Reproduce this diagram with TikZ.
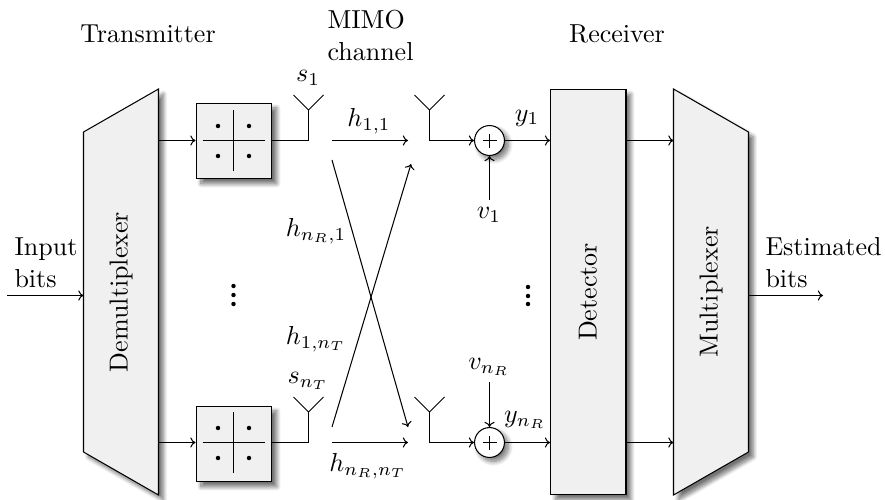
\documentclass[tikz,border=0pt]{standalone}
\usetikzlibrary{shadows.blur,calc,arrows.meta}
\begin{document}
\begin{tikzpicture}[x=0.3846pt,y=-0.3846pt,line width=0.4pt,
  >={Computer Modern Rightarrow[length=2pt,width=3.9pt]},
  shade box/.style={draw,fill=black!6,blur shadow={shadow xshift=1.9pt,shadow yshift=-1.9pt,shadow blur radius=1.5pt,shadow blur steps=10,shadow opacity=55},inner sep=0pt},
  blockbox/.style={shade box,rectangle,minimum width=29pt,minimum height=156pt},
  modbox/.style={shade box,rectangle,minimum width=29.2pt,minimum height=29.2pt},
  addbox/.style={draw,circle,fill=white,blur shadow={shadow xshift=1.5pt,shadow yshift=-1.5pt,shadow blur radius=1.8pt,shadow blur steps=10,shadow opacity=55},minimum size=11.5pt,inner sep=0pt},
  arr/.style={->},
  txt/.style={inner sep=0pt}]
\useasboundingbox (0,0) rectangle (885,500);
% rows
\coordinate (row1) at (0,140.5);
\coordinate (row2) at (0,442.5);
% main blocks
\draw[shade box] (83.5,132) -- (158.5,89) -- (158.5,495) -- (83.5,452) -- cycle;
\node[rotate=90,txt] (demux) at (121,292) {Demultiplexer};
\node[blockbox] (det) at (588.3,292) {};
\node[rotate=90,txt] (dett) at (588,292) {Detector};
\draw[shade box] (673.5,89) -- (748.5,132) -- (748.5,452) -- (673.5,495) -- cycle;
\node[rotate=90,txt] (mux) at (711,292) {Multiplexer};
\node[modbox] (mod1) at (234,141) {};
\node[modbox] (mod2) at (234,444) {};
\coordinate (cen1) at (233.5,140.5);
\coordinate (cen2) at (233.5,442.5);
\foreach \m in {cen1,cen2}{
  \draw ($(\m)+(-31,0)$) -- ($(\m)+(31,0)$);
  \draw ($(\m)+(0,-30.5)$) -- ($(\m)+(0,30)$);
  \foreach \dx in {-15.5,15.5}\foreach \dy in {-14.5,15.5}
    \fill ($(\m)+(\dx,\dy)$) circle (0.85pt);
}
\node[addbox] (add1) at (489.5,140.5) {};
\node[addbox] (add2) at (489.5,442.5) {};
\foreach \a in {add1,add2}{
  \draw ($(\a.center)+(-7,0)$) -- ($(\a.center)+(7,0)$);
  \draw ($(\a.center)+(0,-7)$) -- ($(\a.center)+(0,7)$);
}
% coordinates
\coordinate (tx1) at (308.5,140.5); \coordinate (tv1) at (308.5,110);
\coordinate (tx2) at (308.5,442.5); \coordinate (tv2) at (308.5,412);
\coordinate (rx1) at (429.5,140.5); \coordinate (rv1) at (429.5,110);
\coordinate (rx2) at (429.5,442.5); \coordinate (rv2) at (429.5,412);
\coordinate (ina) at (7,295.5); \coordinate (inb) at (83.5,295.5);
\coordinate (outa) at (748.5,295.5); \coordinate (outb) at (823,295.5);
\coordinate (ca1) at (332,140.5); \coordinate (cb1) at (408,140.5);
\coordinate (ca2) at (332,442.5); \coordinate (cb2) at (408,442.5);
\coordinate (cc1) at (332,427); \coordinate (cd1) at (411,164);
\coordinate (cc2) at (332,160); \coordinate (cd2) at (408,427);
\coordinate (v1s) at (489.5,200); \coordinate (v2s) at (489.5,382);
\coordinate (dmx1) at (158.5,140.5); \coordinate (dmx2) at (158.5,442.5);
\coordinate (mxl1) at (673.5,140.5); \coordinate (mxl2) at (673.5,442.5);
% connectors
\draw[arr] (ina) -- (inb);
\draw[arr] (outa) -- (outb);
\draw[arr] (dmx1) -- (dmx1 -| mod1.west);
\draw[arr] (dmx2) -- (dmx2 -| mod2.west);
\draw (tx1 -| mod1.east) -- (tx1) -- (tv1);
\draw (tx2 -| mod2.east) -- (tx2) -- (tv2);
\foreach \v in {tv1,tv2,rv1,rv2}{
  \draw ($(\v)+(-15,-15)$) -- (\v) -- ($(\v)+(15,-15)$);
}
\draw[arr] (ca1) -- (cb1);
\draw[arr] (ca2) -- (cb2);
\draw[arr] (cc1) -- (cd1);
\draw[arr] (cc2) -- (cd2);
\draw[arr] (rv1) -- (rx1) -- (add1.west);
\draw[arr] (rv2) -- (rx2) -- (add2.west);
\draw[arr] (add1.east) -- (add1.east -| det.west);
\draw[arr] (add2.east) -- (add2.east -| det.west);
\draw[arr] (v1s) -- (add1.south);
\draw[arr] (v2s) -- (add2.north);
\draw[arr] (add1.east -| det.east) -- (mxl1);
\draw[arr] (add2.east -| det.east) -- (mxl2);
% labels
\node[txt,anchor=base] (l1) at (148,43) {Transmitter};
\node[txt,anchor=base west] (l2) at (327,28) {MIMO};
\node[txt,anchor=base west] (l3) at (327,60) {channel};
\node[txt,anchor=base] (l4) at (617,43) {Receiver};
\node[txt,anchor=base west] (l5) at (14,255) {Input};
\node[txt,anchor=base west] (l6) at (14,287) {bits};
\node[txt,anchor=base west] (l7) at (765,255) {Estimated};
\node[txt,anchor=base west] (l8) at (765,287) {bits};
\node[txt] (m1) at (308,78) {$s_1$};
\node[txt] (m2) at (308,381) {$s_{n_T}$};
\node[txt] (m3) at (369,121) {$h_{1,1}$};
\node[txt] (m4) at (316,231) {$h_{n_R,1}$};
\node[txt] (m5) at (316,339) {$h_{1,n_T}$};
\node[txt] (m6) at (368,466) {$h_{n_R,n_T}$};
\node[txt] (m7) at (527,118) {$y_1$};
\node[txt] (m8) at (525,420) {$y_{n_R}$};
\node[txt] (m9) at (489,215) {$v_1$};
\node[txt] (m10) at (489,367) {$v_{n_R}$};
\foreach \y in {286,295,304}{\fill (233.5,\y) circle (0.85pt);}
\foreach \y in {287,296,304}{\fill (528,\y) circle (0.85pt);}
\end{tikzpicture}
\end{document}
